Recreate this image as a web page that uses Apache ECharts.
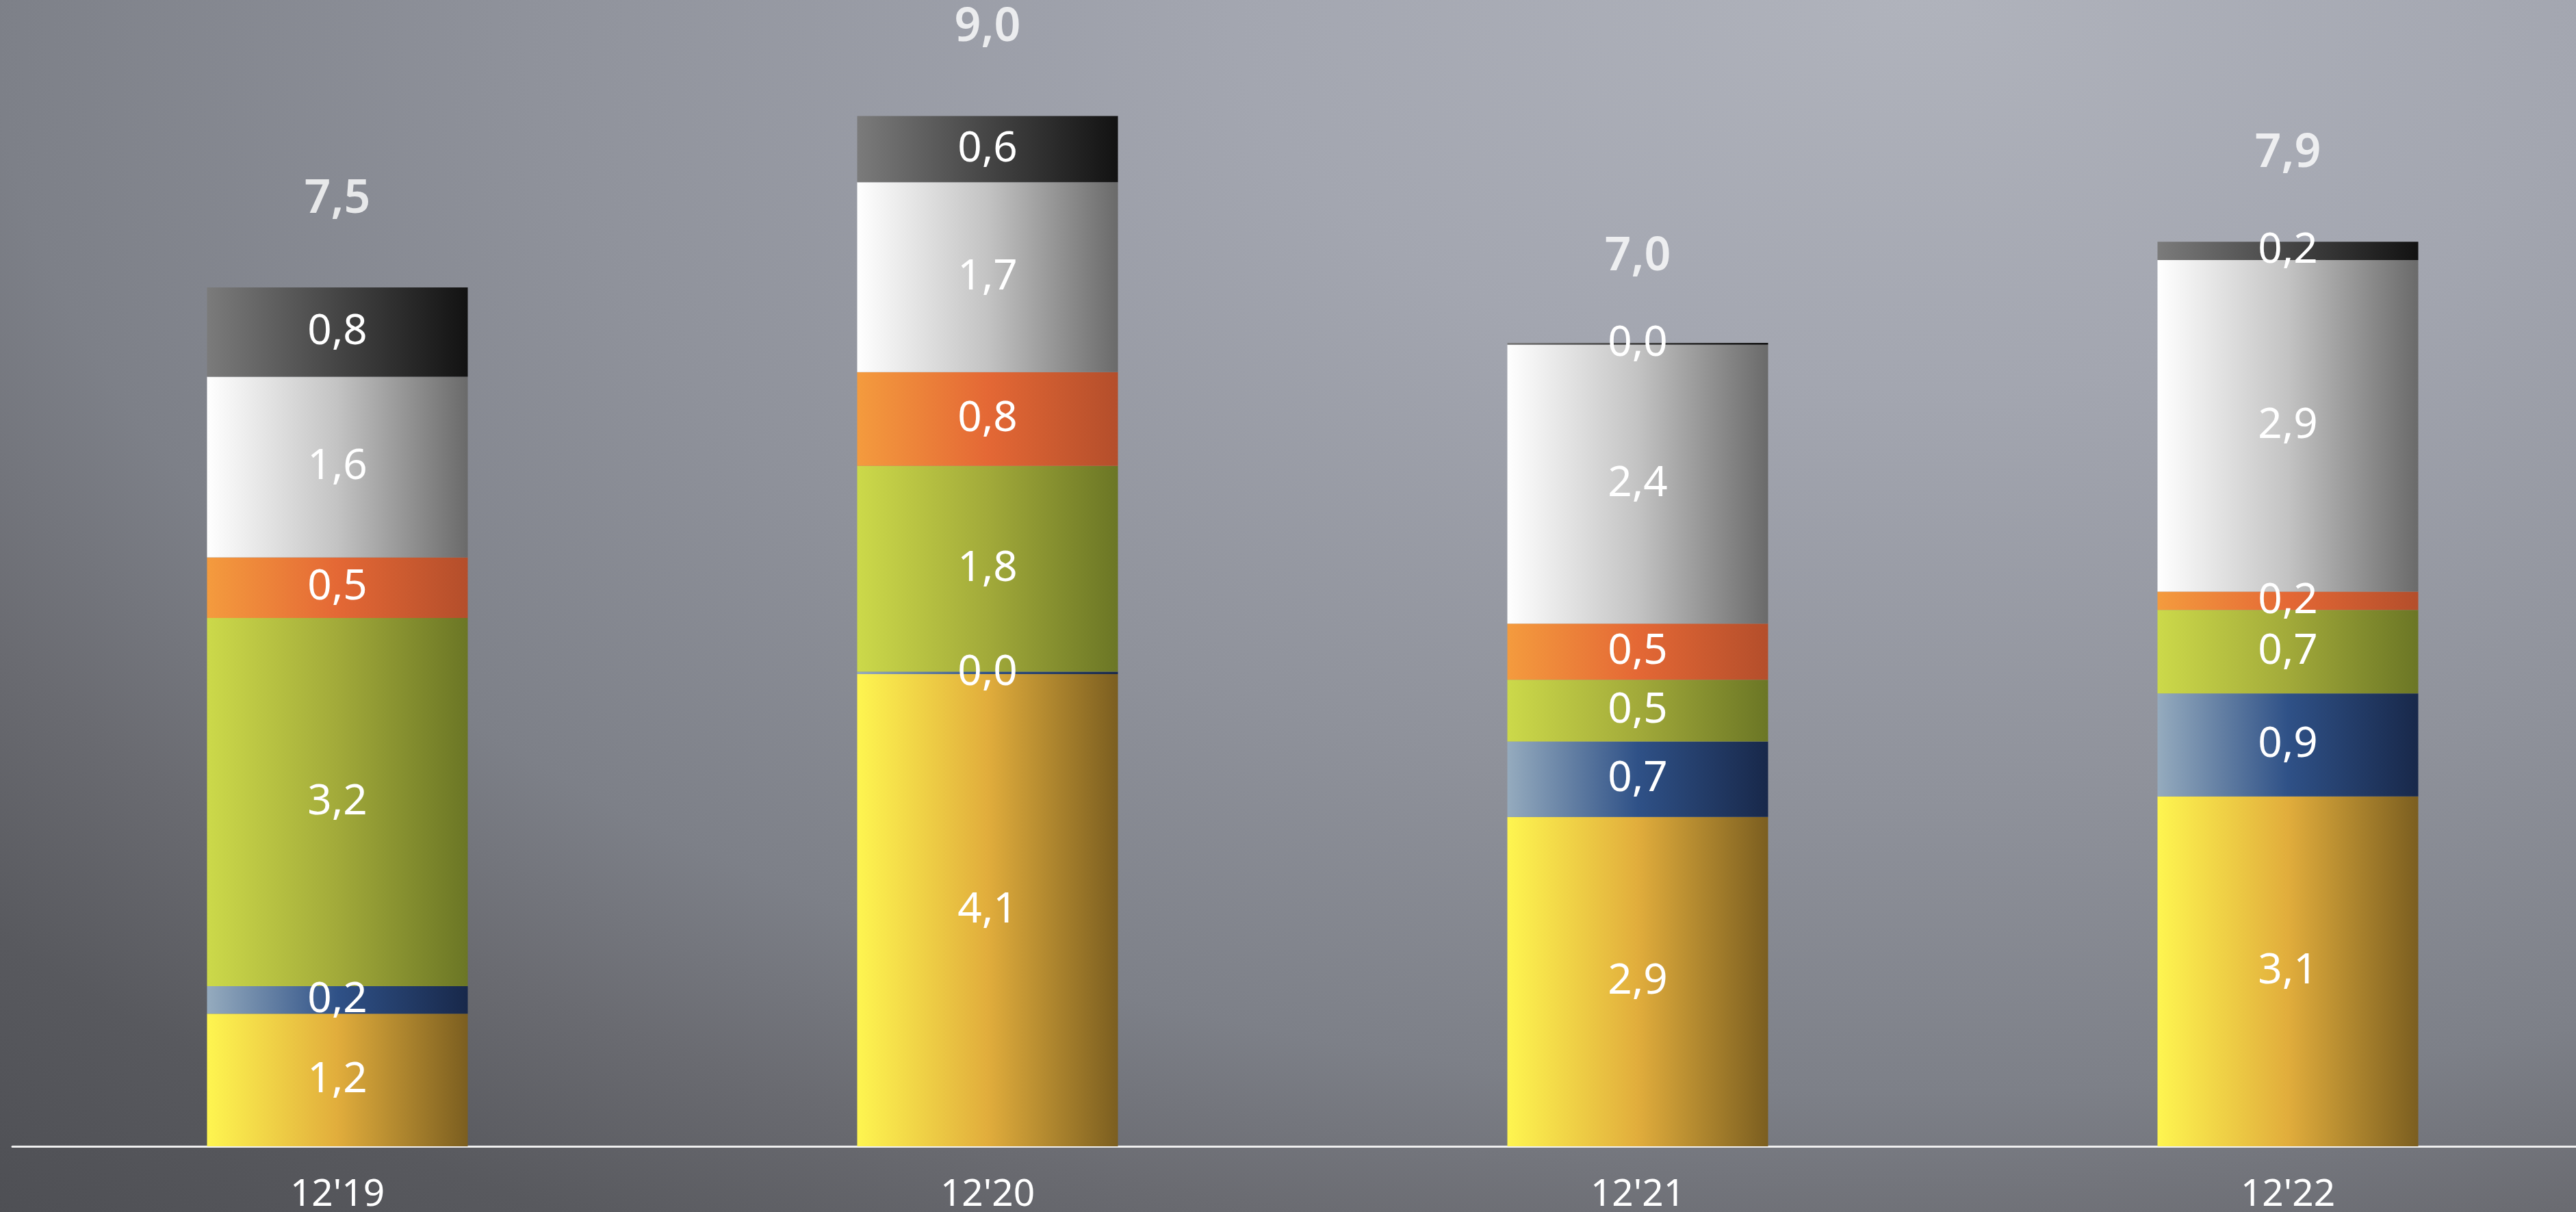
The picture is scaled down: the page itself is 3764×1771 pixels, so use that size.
<!DOCTYPE html>
<html>
<head>
<meta charset="utf-8">
<script src="https://cdn.jsdelivr.net/npm/echarts@6/dist/echarts.min.js"></script>
<style>
  html, body { margin: 0; padding: 0; width: 100%; height: 100%; overflow: hidden; }
  body {
    background: radial-gradient(ellipse 3700px 2100px at 2800px 0px,
      #b0b3bc 0%, #a3a6b0 27%, #8f929b 55%, #7d8088 76%, #6a6b71 88%, #58595e 100%, #4b4c51 118%);
  }
  #chart { width: 3764px; height: 1771px; }
</style>
</head>
<body>
<div id="chart"></div>
<script>
const categories = ["12'19", "12'20", "12'21", "12'22"];
const yellowValues = [1.16, 4.13, 2.88, 3.06];
const blueValues   = [0.24, 0.02, 0.66, 0.90];
const greenValues  = [3.22, 1.80, 0.54, 0.73];
const orangeValues = [0.53, 0.82, 0.49, 0.16];
const whiteValues  = [1.58, 1.66, 2.44, 2.90];
const blackValues  = [0.78, 0.58, 0.015, 0.16];
const totals       = [7.5, 9.0, 7.0, 7.9];

const FONT = "'Noto Sans', 'Open Sans', sans-serif";
function fmt(v) { return Number(v).toFixed(1).replace('.', ','); }
function grad(c0, c1, c2) {
  return new echarts.graphic.LinearGradient(0, 0, 1, 0, [
    { offset: 0, color: c0 }, { offset: 0.5, color: c1 }, { offset: 1, color: c2 }
  ]);
}
const seriesDefs = [
  { name: 'yellow', data: yellowValues, colors: ['#fef550', '#e1ad3c', '#7b5e20'] },
  { name: 'blue',   data: blueValues,   colors: ['#95abbe', '#2f5187', '#18284a'] },
  { name: 'green',  data: greenValues,  colors: ['#ccd94a', '#a2aa3a', '#6b7625'] },
  { name: 'orange', data: orangeValues, colors: ['#f49b3e', '#e46835', '#b44e2b'] },
  { name: 'white',  data: whiteValues,  colors: ['#ffffff', '#c3c3c3', '#6a6a6a'] },
  { name: 'black',  data: blackValues,  colors: ['#7b7b7b', '#454545', '#121212'] }
];

const series = seriesDefs.map(d => ({
  name: d.name,
  type: 'bar',
  stack: 'total',
  barWidth: 381,
  data: d.data,
  itemStyle: { color: grad(d.colors[0], d.colors[1], d.colors[2]) },
  label: {
    show: true,
    position: 'inside',
    color: '#ffffff',
    fontFamily: FONT,
    fontSize: 62,
    fontWeight: 'normal',
    textBorderWidth: 0,
    formatter: p => fmt(p.value)
  },
  emphasis: { disabled: true },
  animation: false
}));

series.push({
  name: 'total',
  type: 'scatter',
  data: totals,
  symbolSize: 0,
  label: {
    show: true,
    position: 'top',
    distance: 96,
    color: '#ffffff',
    fontFamily: FONT,
    fontSize: 68,
    fontWeight: 600,
    formatter: p => fmt(p.value)
  },
  emphasis: { disabled: true },
  animation: false,
  z: 5
});

const chart = echarts.init(document.getElementById('chart'), null, { renderer: 'canvas' });
chart.setOption({
  backgroundColor: 'transparent',
  animation: false,
  grid: { left: 18, width: 3800, top: 4, bottom: 96, containLabel: false, outerBoundsMode: 'none' },
  xAxis: {
    type: 'category',
    data: categories,
    boundaryGap: true,
    axisLine: { show: true, lineStyle: { color: '#f0f0f0', width: 3 } },
    axisTick: { show: false },
    axisLabel: { color: '#ffffff', fontFamily: FONT, fontSize: 55, margin: 44 },
    splitLine: { show: false }
  },
  yAxis: {
    type: 'value',
    min: 0,
    max: 10,
    show: false,
    splitLine: { show: false }
  },
  series: series
});
</script>
</body>
</html>
